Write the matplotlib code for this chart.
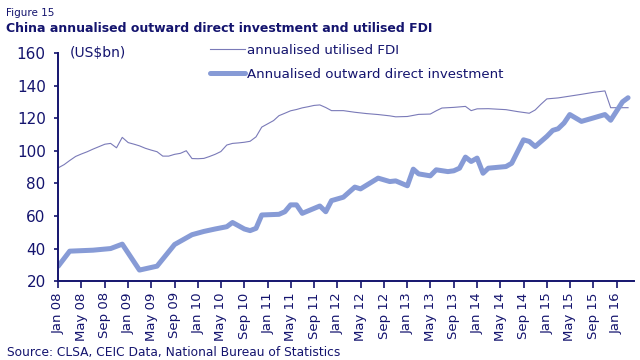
import numpy as np
import pandas as pd
import matplotlib
matplotlib.use("Agg")
import matplotlib.pyplot as plt

# utilised FDI, annualised (US$bn)
fdi_dates = ["2008-01", "2008-02", "2008-03", "2008-04", "2008-05", "2008-06", "2008-07",
             "2008-08", "2008-09", "2008-10", "2008-11", "2008-12", "2009-01", "2009-02",
             "2009-03", "2009-04", "2009-05", "2009-06", "2009-07", "2009-08", "2009-09",
             "2009-10", "2009-11", "2009-12", "2010-01", "2010-02", "2010-03", "2010-04",
             "2010-05", "2010-06", "2010-07", "2010-08", "2010-09", "2010-10", "2010-11",
             "2010-12", "2011-01", "2011-02", "2011-03", "2011-04", "2011-05", "2011-06",
             "2011-07", "2011-08", "2011-09", "2011-10", "2011-11", "2011-12", "2012-02",
             "2012-04", "2012-06", "2012-08", "2012-10", "2012-11", "2013-01", "2013-03",
             "2013-05", "2013-06", "2013-07", "2013-09", "2013-11", "2013-12", "2014-01",
             "2014-03", "2014-06", "2014-08", "2014-10", "2014-11", "2014-12", "2015-01",
             "2015-03", "2015-05", "2015-07", "2015-09", "2015-11", "2015-12", "2016-03"]
fdi_vals = [89.5, 91.5, 94.0, 96.5, 98.0, 99.4, 101.0,
            102.5, 104.0, 104.5, 101.8, 108.2, 105.0, 104.0,
            103.0, 101.5, 100.4, 99.4, 96.7, 96.7, 97.8,
            98.4, 100.0, 95.2, 95.1, 95.3, 96.4, 97.8,
            99.5, 103.5, 104.5, 104.8, 105.2, 105.8, 108.5,
            114.5, 116.5, 118.5, 121.5, 123.0, 124.5, 125.3,
            126.3, 127.0, 127.8, 128.1, 126.5, 124.6, 124.6,
            123.6, 122.8, 122.2, 121.4, 120.8, 121.0, 122.3,
            122.5, 124.5, 126.2, 126.6, 127.2, 124.6, 125.7,
            125.8, 125.2, 124.0, 123.0, 125.0, 128.5, 131.8,
            132.4, 133.5, 134.6, 135.8, 136.7, 126.4, 126.4]

# outward direct investment, annualised (US$bn)
odi_dates = ["2008-01", "2008-03", "2008-07", "2008-10", "2008-12", "2009-03", "2009-06",
             "2009-09", "2009-12", "2010-02", "2010-04", "2010-06", "2010-07", "2010-09",
             "2010-10", "2010-11", "2010-12", "2011-03", "2011-04", "2011-05", "2011-06",
             "2011-07", "2011-10", "2011-11", "2011-12", "2012-02", "2012-04", "2012-05",
             "2012-08", "2012-10", "2012-11", "2013-01", "2013-02", "2013-03", "2013-05",
             "2013-06", "2013-08", "2013-09", "2013-10", "2013-11", "2013-12", "2014-01",
             "2014-02", "2014-03", "2014-06", "2014-07", "2014-09", "2014-10", "2014-11",
             "2015-01", "2015-02", "2015-03", "2015-04", "2015-05", "2015-07", "2015-09",
             "2015-11", "2015-12", "2016-02", "2016-03"]
odi_vals = [29.2, 38.4, 39.0, 40.0, 42.7, 26.8, 29.2,
            42.5, 48.5, 50.5, 52.0, 53.4, 56.0, 52.0,
            51.0, 52.4, 60.6, 61.0, 62.6, 66.8, 66.8,
            61.6, 66.1, 62.6, 69.4, 71.5, 77.7, 76.6,
            83.2, 81.1, 81.5, 78.5, 88.7, 85.8, 84.6,
            88.3, 87.2, 87.7, 89.3, 96.1, 93.4, 95.5,
            86.2, 89.3, 90.3, 92.3, 106.7, 105.7, 102.6,
            108.8, 112.5, 113.5, 117.0, 122.2, 118.0, 120.1,
            122.2, 118.7, 130.0, 132.5]

navy = "#14146e"
fdi_color = "#7a7ab8"
odi_color = "#879bd6"

fig = plt.figure(figsize=(6.4, 3.6), dpi=100)
ax = fig.add_axes([0.091, 0.219, 0.899, 0.634])

ax.plot(pd.to_datetime(fdi_dates), fdi_vals, color=fdi_color, lw=0.8,
        label="annualised utilised FDI")
ax.plot(pd.to_datetime(odi_dates), odi_vals, color=odi_color, lw=3.6,
        solid_capstyle="round", solid_joinstyle="round",
        label="Annualised outward direct investment")

ax.set_ylim(20, 160)
ax.set_yticks(np.arange(20, 161, 20))
ax.set_xlim(pd.Timestamp("2008-01-01"), pd.Timestamp("2016-03-30"))
ticks = pd.date_range("2008-01-01", "2016-01-01", freq="4MS")
ax.set_xticks(ticks)
ax.set_xticklabels([t.strftime("%b %y") for t in ticks], rotation=90)

for s in ["top", "right"]:
    ax.spines[s].set_visible(False)
for s in ["left", "bottom"]:
    ax.spines[s].set_color(navy)
    ax.spines[s].set_linewidth(1.4)
ax.tick_params(axis="y", colors=navy, labelsize=11, length=3, width=1.2, pad=6)
ax.tick_params(axis="x", colors=navy, labelsize=9.5, length=5, width=1.2, pad=3)

ax.text(0.02, 1.0, "(US$bn)", transform=ax.transAxes, color=navy, fontsize=10,
        va="center", ha="left")

ax.legend(loc="upper left", bbox_to_anchor=(0.328, 0.878), bbox_transform=fig.transFigure,
          frameon=False, fontsize=9.6, handlelength=2.6, handletextpad=0.15,
          labelspacing=0.8, borderaxespad=0, borderpad=0, labelcolor=navy)

fig.text(0.009, 0.965, "Figure 15", color=navy, fontsize=7.5, va="center")
fig.text(0.009, 0.922, "China annualised outward direct investment and utilised FDI",
         color=navy, fontsize=9, fontweight="bold", va="center")
fig.text(0.011, 0.022, "Source: CLSA, CEIC Data, National Bureau of Statistics",
         color=navy, fontsize=8.8, va="center")

fig.savefig("out.png", dpi=100)
